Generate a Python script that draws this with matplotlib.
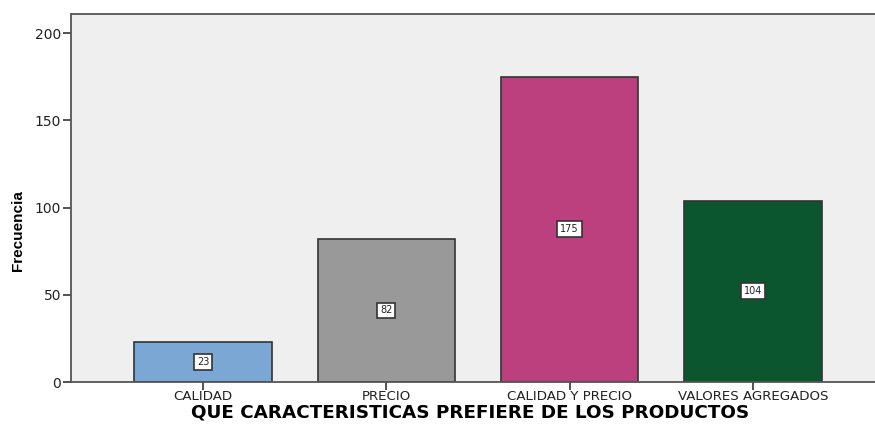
import matplotlib
matplotlib.use('Agg')
import matplotlib.pyplot as plt

# frecuencias por caracteristica preferida
categorias = ['CALIDAD', 'PRECIO', 'CALIDAD Y PRECIO', 'VALORES AGREGADOS']
frecuencias = [23, 82, 175, 104]
colores = ['#7BA7D5', '#999999', '#BC3F7E', '#0B552F']
yticks = [0, 50, 100, 150, 200]

plt.rcParams['font.family'] = ['DejaVu Sans']

fig = plt.figure(figsize=(8.75, 4.24), dpi=100)
ax = fig.add_axes([71 / 875, 42 / 424, 814 / 875, 368 / 424])
ax.set_facecolor('#EFEFEF')

x = range(len(categorias))
ax.bar(x, frecuencias, width=0.75, color=colores, edgecolor='#333333', linewidth=1.2, zorder=2)

# etiqueta con el valor en medio de cada barra
for i, v in zip(x, frecuencias):
    ax.text(i, v / 2, str(v), ha='center', va='center', fontsize=7, color='#222222', zorder=3,
            bbox=dict(boxstyle='square,pad=0.3', facecolor='white', edgecolor='#333333', linewidth=1.2))

ax.set_xlim(-0.72, 3.72)
ax.set_ylim(0, 211)
ax.set_xticks(list(x))
ax.set_xticklabels(categorias, fontsize=9.6, color='#222222')
ax.set_yticks(yticks)
ax.tick_params(axis='y', labelsize=10, length=6, width=1.2, color='#333333', pad=1, labelcolor='#222222')
ax.tick_params(axis='x', length=6, width=1.2, color='#333333', pad=0)

for s in ax.spines.values():
    s.set_color('#555555')
    s.set_linewidth(1.3)

ax.set_xlabel('QUE CARACTERISTICAS PREFIERE DE LOS PRODUCTOS', fontsize=13.2, fontweight='bold',
              va='center')
ax.xaxis.set_label_coords(0.5 - 8 / 814, -31 / 368)
fig.text(18 / 875, 1 - 231 / 424, 'Frecuencia', rotation=90, ha='center', va='center',
         fontsize=11, fontweight='bold', family=['Liberation Sans'])

fig.savefig('out.png', dpi=100)
